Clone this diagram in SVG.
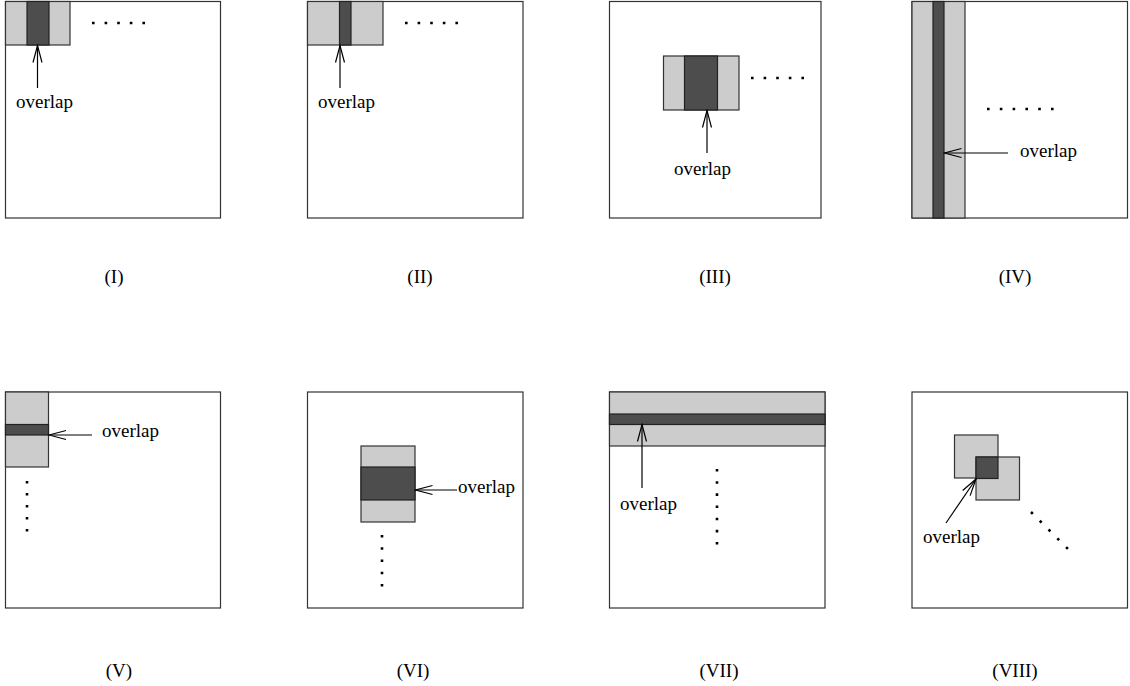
<svg xmlns="http://www.w3.org/2000/svg" width="1130" height="686" viewBox="0 0 1130 686">
<style>
.frame{fill:#fff;stroke:#333;stroke-width:1.2}
.lt{fill:#cccccc;stroke:#333;stroke-width:1.2}
.dk{fill:#4d4d4d;stroke:#222;stroke-width:1.2}
.arr{fill:none;stroke:#000;stroke-width:1.2;marker-end:url(#vh)}
.dots{fill:none;stroke:#000;stroke-width:2.6}
text{font-family:"Liberation Serif","Times New Roman",serif;font-size:19px;fill:#000}
.lab{text-anchor:middle}
</style>
<defs>
<marker id="vh" viewBox="-18 -6 20 12" refX="0" refY="0" markerWidth="20" markerHeight="12" markerUnits="userSpaceOnUse" orient="auto">
<path d="M-17,-4.5 L0,0 L-17,4.5" fill="none" stroke="#000" stroke-width="1.2"/>
</marker>
</defs>
<g id="panel-I">
<rect class="frame" x="5.5" y="1.5" width="215" height="216.5"/>
<rect class="lt" x="5.5" y="1.5" width="64.5" height="43.5"/>
<rect class="dk" x="27" y="1.5" width="22" height="43.5"/>
<path class="dots" d="M92,23H145" stroke-dasharray="2.6 10"/>
<text x="16" y="108">overlap</text>
<text class="lab" x="114" y="283">(I)</text>
</g>
<g id="panel-II">
<rect class="frame" x="307.5" y="1.5" width="215.5" height="216.5"/>
<rect class="lt" x="307.5" y="1.5" width="75.5" height="43.5"/>
<rect class="dk" x="339.5" y="1.5" width="11.5" height="43.5"/>
<path class="dots" d="M405,23H458" stroke-dasharray="2.6 10"/>
<text x="318" y="108">overlap</text>
<text class="lab" x="420" y="283">(II)</text>
</g>
<g id="panel-III">
<rect class="frame" x="609.5" y="1.5" width="211.5" height="216.5"/>
<rect class="lt" x="663.5" y="56" width="75.5" height="54"/>
<rect class="dk" x="684.5" y="56" width="33" height="54"/>
<path class="dots" d="M751,78H804" stroke-dasharray="2.6 10"/>
<text x="674" y="175">overlap</text>
<text class="lab" x="715" y="283">(III)</text>
</g>
<g id="panel-IV">
<rect class="frame" x="912" y="1.5" width="215.5" height="216.5"/>
<rect class="lt" x="912" y="1.5" width="53" height="216.5"/>
<rect class="dk" x="933" y="1.5" width="11" height="216.5"/>
<path class="dots" d="M987,109H1054" stroke-dasharray="2.6 10.2"/>
<text x="1020" y="157">overlap</text>
<text class="lab" x="1015" y="283">(IV)</text>
</g>
<g id="panel-V">
<rect class="frame" x="5.5" y="392" width="215" height="216"/>
<rect class="lt" x="5.5" y="392" width="43" height="75"/>
<rect class="dk" x="5.5" y="424.5" width="43" height="10.5"/>
<path class="dots" d="M27,481V532" stroke-dasharray="2.6 9.4"/>
<text x="102" y="437">overlap</text>
<text class="lab" x="119" y="677">(V)</text>
</g>
<g id="panel-VI">
<rect class="frame" x="307.5" y="392" width="215.5" height="216"/>
<rect class="lt" x="361" y="446" width="54" height="76"/>
<rect class="dk" x="361" y="467" width="54" height="33"/>
<path class="dots" d="M382,535V587" stroke-dasharray="2.6 9.65"/>
<text x="458" y="493">overlap</text>
<text class="lab" x="413" y="677">(VI)</text>
</g>
<g id="panel-VII">
<rect class="frame" x="609.5" y="392" width="215.5" height="216"/>
<rect class="lt" x="609.5" y="392" width="215.5" height="54"/>
<rect class="dk" x="609.5" y="414" width="215.5" height="10.5"/>
<path class="dots" d="M717,469V545" stroke-dasharray="2.6 9.57"/>
<text x="620" y="510">overlap</text>
<text class="lab" x="719" y="677">(VII)</text>
</g>
<g id="panel-VIII">
<rect class="frame" x="912" y="392" width="215.5" height="216"/>
<rect class="lt" x="954.5" y="435" width="43.5" height="43"/>
<rect class="lt" x="976" y="457" width="43.5" height="43"/>
<rect class="dk" x="976" y="457" width="22" height="21.5"/>
<path class="dots" d="M1031,512L1068,549" stroke-dasharray="2.6 9.8"/>
<text x="923" y="543">overlap</text>
<text class="lab" x="1015" y="677">(VIII)</text>
</g>
<g id="connectors">
<path class="arr" d="M37.5,88V45.5"/>
<path class="arr" d="M340,88V45.5"/>
<path class="arr" d="M707,153V110.5"/>
<path class="arr" d="M1008,153H944.5"/>
<path class="arr" d="M92,435H49"/>
<path class="arr" d="M457,490H415.5"/>
<path class="arr" d="M642,488V424.5"/>
<path class="arr" d="M946,523L976,479"/>
</g>
</svg>
